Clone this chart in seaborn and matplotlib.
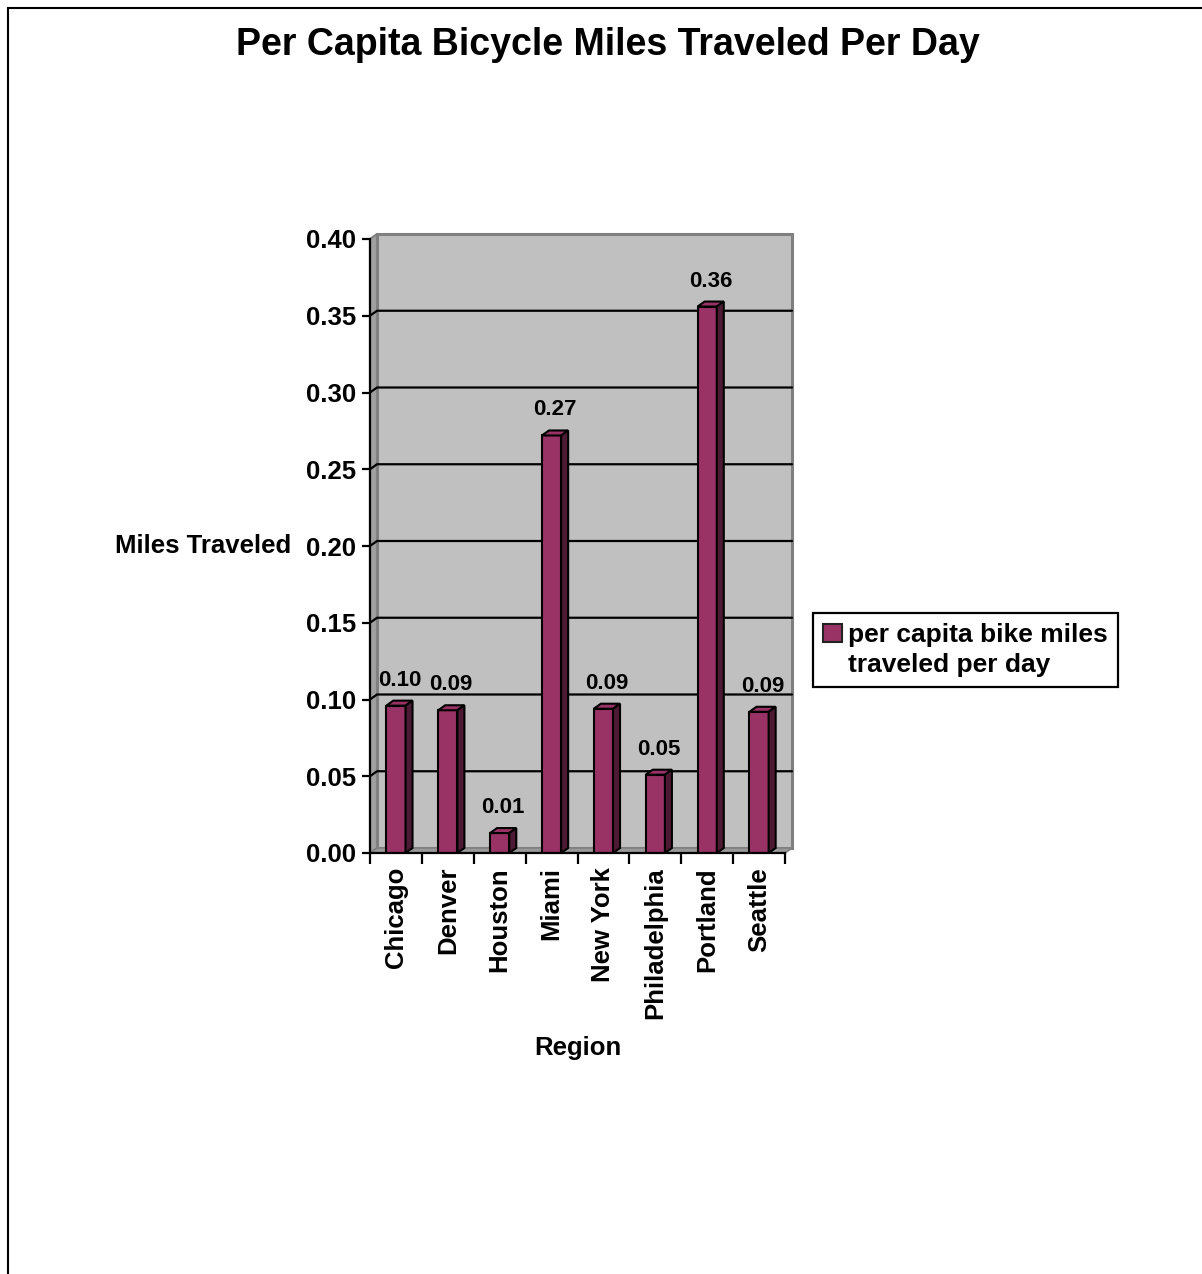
import matplotlib
matplotlib.use("Agg")
import matplotlib.pyplot as plt
from matplotlib.patches import Polygon, Rectangle, Patch
from matplotlib.lines import Line2D
import seaborn as sns
import pandas as pd

# Data
regions = ["Chicago", "Denver", "Houston", "Miami", "New York",
           "Philadelphia", "Portland", "Seattle"]
miles_per_day = [0.096, 0.093, 0.013, 0.272, 0.094, 0.051, 0.356, 0.092]
y_ticks = [0.00, 0.05, 0.10, 0.15, 0.20, 0.25, 0.30, 0.35, 0.40]
series_lines = ["per capita bike miles", "traveled per day"]

df = pd.DataFrame({"Region": regions, "Miles": miles_per_day})

sns.set_theme(style="white")
plt.rcParams["font.family"] = ["Liberation Sans", "DejaVu Sans"]
plt.rcParams["font.weight"] = "bold"
for key in ["text.color", "axes.labelcolor", "xtick.color", "ytick.color"]:
    plt.rcParams[key] = "black"

W, H = 1202, 1274
fig = plt.figure(figsize=(W / 100, H / 100), dpi=100)
fig.patch.set_facecolor("white")

ax_l, ax_r, ax_t, ax_b = 370, 785, 239, 853
ax = fig.add_axes([ax_l / W, 1 - ax_b / H, (ax_r - ax_l) / W, (ax_b - ax_t) / H])
ax.set_facecolor("none")

n = len(regions)
ymax = 0.40
ax.set_xlim(-0.5, n - 0.5)
ax.set_ylim(0, ymax)

# depth of the 3-D look, converted from pixels to data units
dx_px, dy_px = 7.0, 5.0
ddx = dx_px / ((ax_r - ax_l) / n)
ddy = dy_px / ((ax_b - ax_t) / ymax)

bar_color = "#993366"
side_color = "#4d1a33"

# back wall
wall = Polygon([(-0.5 + ddx, ddy), (n - 0.5 + ddx, ddy),
                (n - 0.5 + ddx, ymax + ddy), (-0.5 + ddx, ymax + ddy)],
               closed=True, facecolor="#c0c0c0", edgecolor="#808080",
               linewidth=2.2, clip_on=False, zorder=0)
ax.add_patch(wall)
# left side wall
lwall = Polygon([(-0.5, 0), (-0.5 + ddx, ddy), (-0.5 + ddx, ymax + ddy), (-0.5, ymax)],
                closed=True, facecolor="#a0a0a0", edgecolor="#808080",
                linewidth=1.5, clip_on=False, zorder=0.5)
ax.add_patch(lwall)
# floor
floor = Polygon([(-0.5, 0), (n - 0.5, 0), (n - 0.5 + ddx, ddy), (-0.5 + ddx, ddy)],
                closed=True, facecolor="#999999", edgecolor="#808080",
                linewidth=1.2, clip_on=False, zorder=0.6)
ax.add_patch(floor)

# gridlines on the side and back walls
for v in y_ticks[1:-1]:
    ax.add_line(Line2D([-0.5, -0.5 + ddx, n - 0.5 + ddx], [v, v + ddy, v + ddy],
                       color="black", linewidth=1.6, clip_on=False, zorder=1))

# front faces of the bars
sns.barplot(data=df, x="Region", y="Miles", color=bar_color, saturation=1,
            width=0.37, edgecolor="black", linewidth=1.5, ax=ax, zorder=2)

# top and side faces of each bar
for p in list(ax.patches):
    if not isinstance(p, Rectangle) or p.get_height() <= 0:
        continue
    x0, w, h = p.get_x(), p.get_width(), p.get_height()
    top = Polygon([(x0, h), (x0 + w, h), (x0 + w + ddx, h + ddy), (x0 + ddx, h + ddy)],
                  closed=True, facecolor=bar_color, edgecolor="black",
                  linewidth=1.5, zorder=3, clip_on=False)
    side = Polygon([(x0 + w, 0), (x0 + w + ddx, ddy), (x0 + w + ddx, h + ddy), (x0 + w, h)],
                   closed=True, facecolor=side_color, edgecolor="black",
                   linewidth=1.5, zorder=3, clip_on=False)
    ax.add_patch(top)
    ax.add_patch(side)

# value labels
for i, v in enumerate(miles_per_day):
    ax.annotate(f"{v:.2f}", xy=(i, v), xytext=(dx_px / 2, 15),
                textcoords="offset pixels", ha="center", va="bottom",
                fontsize=16, fontweight="bold", color="black", zorder=5)

# axes styling
for s in ["top", "right"]:
    ax.spines[s].set_visible(False)
for s in ["left", "bottom"]:
    ax.spines[s].set_color("black")
    ax.spines[s].set_linewidth(1.6)
    ax.spines[s].set_zorder(4)

ax.set_yticks(y_ticks)
ax.set_yticklabels([f"{t:.2f}" for t in y_ticks], fontsize=18.5, fontweight="bold")
ax.tick_params(axis="y", direction="out", length=6, width=1.6, color="black",
               pad=4, left=True, labelcolor="black")

ax.set_xticks(range(n))
ax.set_xticklabels(regions, rotation=90, fontsize=18.5, fontweight="bold")
ax.set_xticks([i - 0.5 for i in range(n + 1)], minor=True)
ax.tick_params(axis="x", which="major", length=0, pad=10, labelcolor="black")
ax.tick_params(axis="x", which="minor", direction="out", length=8, width=1.6,
               color="black", bottom=True)

ax.set_xlabel("Region", fontsize=18.5, fontweight="bold", labelpad=0)
ax.xaxis.set_label_coords(0.5, -(1048 - ax_b) / (ax_b - ax_t))
ax.xaxis.label.set_va("center")
ax.set_ylabel("Miles Traveled", rotation=0, ha="right", va="center",
              fontsize=18.5, fontweight="bold")
ax.yaxis.set_label_coords(-(ax_l - 291) / (ax_r - ax_l), 0.5)
ax.grid(False)

# legend: swatch beside the first line of the series name
handles = [Patch(facecolor=bar_color, edgecolor="#222222", linewidth=1.5),
           Patch(facecolor="none", edgecolor="none")]
leg = ax.legend(handles, series_lines, loc="upper left",
                bbox_to_anchor=(813 / W, 1 - 613 / H), bbox_transform=fig.transFigure,
                fontsize=19, frameon=True, fancybox=False, framealpha=1,
                edgecolor="black", borderpad=0.38, labelspacing=0.22,
                handlelength=0.7, handleheight=0.7, handletextpad=0.25,
                borderaxespad=0)
leg.get_frame().set_linewidth(1.6)
for t in leg.get_texts():
    t.set_fontweight("bold")
    t.set_color("black")

# title
fig.text(608 / W, 1 - 45 / H, "Per Capita Bicycle Miles Traveled Per Day",
         ha="center", va="center", fontsize=27, fontweight="bold", color="black")

# chart border
fig.patches.append(Rectangle((7.5 / W, -0.5), 1.0, 1.5 - 7.5 / H, transform=fig.transFigure,
                             fill=False, edgecolor="black", linewidth=1.5))

fig.savefig("out.png", dpi=100, facecolor="white")
